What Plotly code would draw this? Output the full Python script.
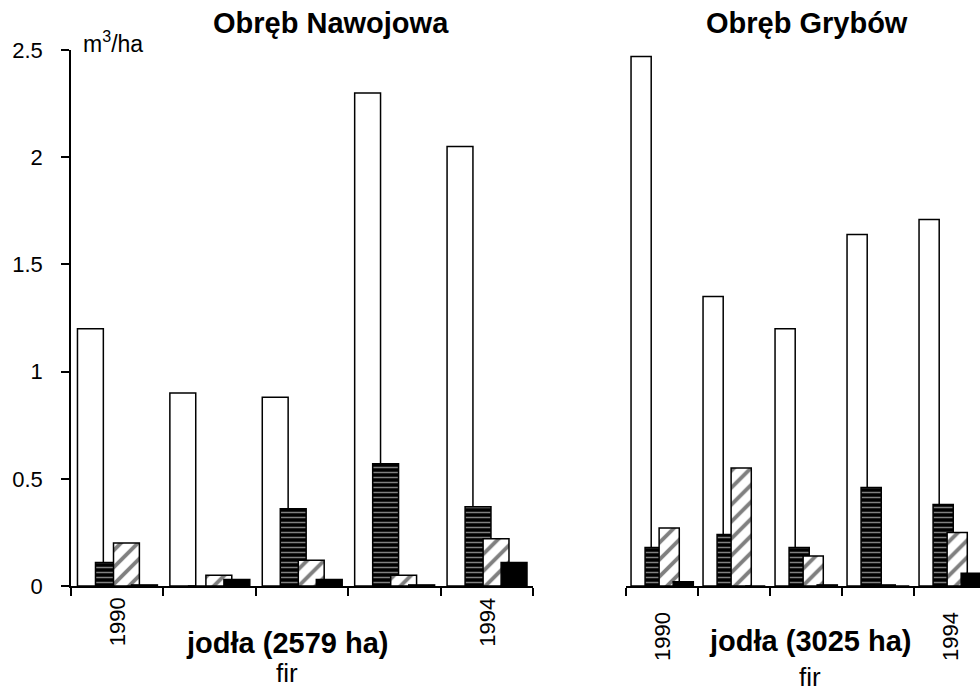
import plotly.graph_objects as go

# Annual volume per hectare (m3/ha) in fir stands, two forest districts
years = ["1990", "1991", "1992", "1993", "1994"]
year_labels = ["1990", "", "", "", "1994"]

nawojowa_white = [1.20, 0.90, 0.88, 2.30, 2.05]
nawojowa_hlines = [0.11, 0.0, 0.36, 0.57, 0.37]
nawojowa_diag = [0.20, 0.05, 0.12, 0.05, 0.22]
nawojowa_black = [0.005, 0.03, 0.03, 0.005, 0.11]

grybow_white = [2.47, 1.35, 1.20, 1.64, 1.71]
grybow_hlines = [0.18, 0.24, 0.18, 0.46, 0.38]
grybow_diag = [0.27, 0.55, 0.14, 0.005, 0.25]
grybow_black = [0.02, 0.0, 0.005, 0.0, 0.06]

titles = ["Obręb Nawojowa", "Obręb Grybów"]
species_labels = ["jodła (2579 ha)", "jodła (3025 ha)"]
species_en = "fir"
unit_label = "m<sup>3</sup>/ha"

W, H = 980, 693
FONT = "Liberation Sans, Arial, sans-serif"

BAR_W = 0.28
STEP = 0.195
START = -0.43

# panel geometry in pixels
LEFT_X0, LEFT_X1 = 71, 533
RIGHT_X0, RIGHT_CAT = 626, 72
Y_TOP, Y_BOT = 50, 586

styles = [
    dict(color="white"),
    dict(color="black", pattern=dict(shape="-", fgcolor="white", bgcolor="black",
                                     size=5, solidity=0.3)),
    dict(color="white", pattern=dict(shape="/", fgcolor="black", bgcolor="white",
                                     size=12, solidity=0.32)),
    dict(color="black"),
]

fig = go.Figure()
panels = [
    ("x", "y", [nawojowa_white, nawojowa_hlines, nawojowa_diag, nawojowa_black]),
    ("x2", "y2", [grybow_white, grybow_hlines, grybow_diag, grybow_black]),
]
for xa, ya, series in panels:
    for i, vals in enumerate(series):
        st = styles[i]
        marker = dict(color=st["color"], line=dict(color="black", width=1.5))
        if "pattern" in st:
            marker["pattern"] = st["pattern"]
        fig.add_trace(go.Bar(
            x=years, y=vals, xaxis=xa, yaxis=ya,
            offset=START + i * STEP, width=BAR_W,
            marker=marker, showlegend=False, hoverinfo="skip",
        ))

y_dom = [1 - Y_BOT / H, 1 - Y_TOP / H]
xcommon = dict(
    type="category", categoryorder="array", categoryarray=years,
    showline=True, linecolor="black", linewidth=1.5,
    ticks="outside", ticklen=8, tickcolor="black", tickwidth=1.5,
    tickson="boundaries", showticklabels=False, showgrid=False, zeroline=False,
    automargin=False,
)
fig.update_layout(
    width=W, height=H,
    margin=dict(l=0, r=0, t=0, b=0, pad=0),
    paper_bgcolor="white", plot_bgcolor="white",
    barmode="overlay",
    font=dict(family=FONT, color="black"),
    xaxis=dict(domain=[LEFT_X0 / W, LEFT_X1 / W], range=[-0.5, 4.5], anchor="y", **xcommon),
    xaxis2=dict(domain=[RIGHT_X0 / W, 1.0], range=[-0.5, -0.5 + (W - RIGHT_X0) / RIGHT_CAT],
                anchor="y2", **xcommon),
    yaxis=dict(domain=y_dom, range=[0, 2.5], anchor="x",
               tickvals=[0, 0.5, 1, 1.5, 2, 2.5], ticktext=["0", "0.5", "1", "1.5", "2", "2.5"],
               showline=True, linecolor="black", linewidth=1.5,
               ticks="outside", ticklen=8, tickcolor="black", tickwidth=1.5,
               ticklabelstandoff=14, tickfont=dict(size=22, family=FONT),
               showgrid=False, zeroline=False, automargin=False),
    yaxis2=dict(domain=y_dom, range=[0, 2.5], anchor="x2",
                showline=False, showticklabels=False, ticks="",
                showgrid=False, zeroline=False, automargin=False),
)

def py(p):
    return 1 - p / H

ann = []
# panel titles
ann.append(dict(text=f"<b>{titles[0]}</b>", x=331 / W, y=py(23), xref="paper", yref="paper",
                showarrow=False, font=dict(size=29), xanchor="center", yanchor="middle"))
ann.append(dict(text=f"<b>{titles[1]}</b>", x=807 / W, y=py(23), xref="paper", yref="paper",
                showarrow=False, font=dict(size=29), xanchor="center", yanchor="middle"))
# unit label
ann.append(dict(text=unit_label, x=81 / W, y=py(42), xref="paper", yref="paper",
                showarrow=False, font=dict(size=23), xanchor="left", yanchor="middle"))
# species labels under each panel
for cx, lab, ly, fy in [(287, species_labels[0], 643, 673), (810, species_labels[1], 641, 677)]:
    ann.append(dict(text=f"<b>{lab}</b>", x=cx / W, y=py(ly), xref="paper", yref="paper",
                    showarrow=False, font=dict(size=29), xanchor="center", yanchor="middle"))
    ann.append(dict(text=species_en, x=cx / W, y=py(fy), xref="paper", yref="paper",
                    showarrow=False, font=dict(size=26), xanchor="center", yanchor="middle"))
# rotated year labels, centred under their categories
for x0, cat_w, cy in [(LEFT_X0, (LEFT_X1 - LEFT_X0) / len(years), 622), (RIGHT_X0, RIGHT_CAT, 637)]:
    for i, lab in enumerate(year_labels):
        if lab:
            ann.append(dict(text=lab, x=(x0 + (i + 0.5) * cat_w) / W, xref="paper",
                            y=py(cy), yref="paper",
                            showarrow=False, textangle=-90, font=dict(size=22),
                            xanchor="center", yanchor="middle"))
fig.update_layout(annotations=ann)

fig.write_html("out.html")
